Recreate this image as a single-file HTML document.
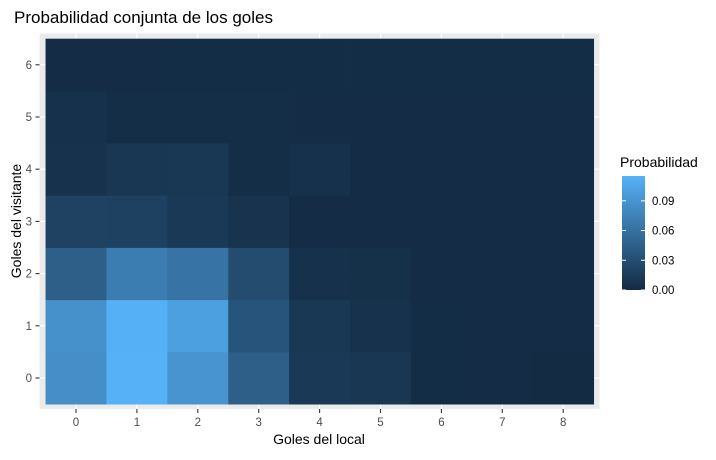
<!DOCTYPE html>
<html><head><meta charset="utf-8"><style>
body{margin:0;background:#fff;}
svg text{font-family:"Liberation Sans",Arial,sans-serif;}
</style></head><body>
<svg id="chart" width="716" height="455" xmlns="http://www.w3.org/2000/svg">
<defs><linearGradient id="lg" x1="0" y1="1" x2="0" y2="0">
<stop offset="0" stop-color="#132B43"/><stop offset="1" stop-color="#56B1F7"/></linearGradient></defs>
<text x="14" y="23" font-size="17" fill="#000">Probabilidad conjunta de los goles</text>
<rect x="39.5" y="33.5" width="560" height="375.5" fill="#EBEBEB"/>
<g id="grid"></g>
<g id="tiles"></g>
<g id="axes"></g>
<text transform="translate(21,221) rotate(-90)" text-anchor="middle" font-size="14">Goles del visitante</text>
<text x="319" y="444" text-anchor="middle" font-size="14">Goles del local</text>
<text x="620" y="167" font-size="14">Probabilidad</text>
<rect x="622" y="176" width="23" height="114" fill="url(#lg)"/>
<g id="legend"></g>
</svg>
<script>
const xCats=[0,1,2,3,4,5,6,7,8];
const yCats=[0,1,2,3,4,5,6];
// rows: y=0..6, each with values for x=0..8
const row0=[0.085,0.115,0.090,0.045,0.012,0.010,0.002,0.001,0.000];
const row1=[0.087,0.114,0.100,0.035,0.011,0.006,0.002,0.001,0.001];
const row2=[0.045,0.070,0.062,0.028,0.005,0.004,0.001,0.001,0.001];
const row3=[0.020,0.019,0.012,0.007,0.001,0.001,0.001,0.001,0.001];
const row4=[0.006,0.010,0.011,0.003,0.005,0.001,0.001,0.001,0.001];
const row5=[0.005,0.003,0.003,0.003,0.001,0.001,0.001,0.001,0.001];
const row6=[0.001,0.001,0.002,0.002,0.002,0.002,0.002,0.002,0.002];
const legendTicks=[0,0.03,0.06,0.09];
const rows=[row0,row1,row2,row3,row4,row5,row6];
const vmax=0.115;
const NS="http://www.w3.org/2000/svg";
const xs=v=>76+v*60.9, ys=v=>378-v*52.2, cw=60.9, ch=52.2;
function col(v){const t=Math.max(0,Math.min(1,v/vmax));const a=[0x13,0x2B,0x43],b=[0x56,0xB1,0xF7];
return 'rgb('+a.map((c,i)=>Math.round(c+(b[i]-c)*t)).join(',')+')';}
function mk(tag,attrs,parent){const e=document.createElementNS(NS,tag);for(const k in attrs)e.setAttribute(k,attrs[k]);parent.appendChild(e);return e;}
const grid=document.getElementById('grid'),tiles=document.getElementById('tiles'),axes=document.getElementById('axes'),leg=document.getElementById('legend');
xCats.forEach(x=>{const l=mk('line',{x1:xs(x),x2:xs(x),y1:33.5,y2:409,stroke:'#fff','stroke-width':1.1},grid);


const t=mk('line',{x1:xs(x),x2:xs(x),y1:409,y2:413,stroke:'#333','stroke-width':1.1},axes);


const tx=mk('text',{x:xs(x),y:426,'text-anchor':'middle','font-size':11.5,fill:'#4D4D4D'},axes);tx.textContent=x;

});
yCats.forEach(y=>{const l=mk('line',{x1:39.5,x2:599.5,y1:ys(y),y2:ys(y),stroke:'#fff','stroke-width':1.1},grid);


const t=mk('line',{x1:35.5,x2:39.5,y1:ys(y),y2:ys(y),stroke:'#333','stroke-width':1.1},axes);


const tx=mk('text',{x:32,y:ys(y)+4,'text-anchor':'end','font-size':11.5,fill:'#4D4D4D'},axes);tx.textContent=y;

});
rows.forEach((r,yi)=>r.forEach((v,xi)=>{const e=mk('rect',{x:xs(xCats[xi])-cw/2,y:ys(yCats[yi])-ch/2,width:cw+0.4,height:ch+0.4,fill:col(v)},tiles);

}));
legendTicks.forEach(v=>{const y=290-v/vmax*114;
const a=mk('line',{x1:622,x2:626,y1:y,y2:y,stroke:'#fff'},leg);


const b=mk('line',{x1:641,x2:645,y1:y,y2:y,stroke:'#fff'},leg);


const t=mk('text',{x:652,y:y+4,'font-size':11.5},leg);t.textContent=v.toFixed(2);

});
</script>
</body></html>
